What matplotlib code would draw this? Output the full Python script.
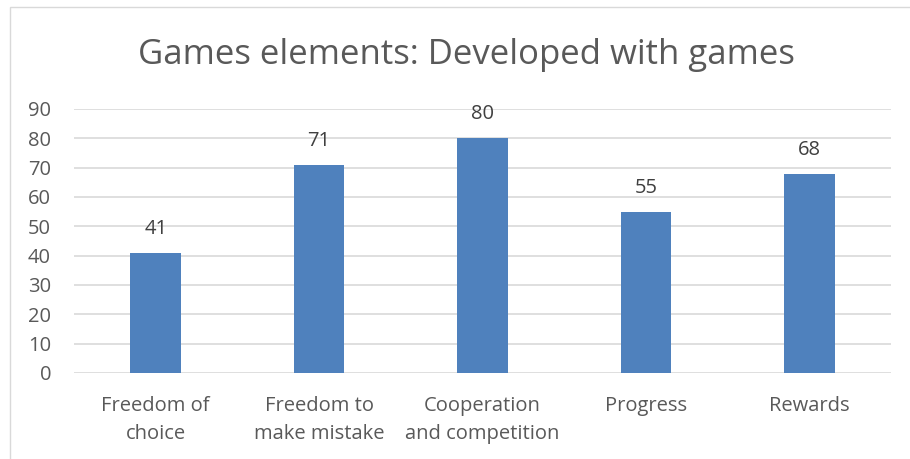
import matplotlib
matplotlib.use("Agg")
import matplotlib.pyplot as plt
from matplotlib.patches import Rectangle

categories = ["Freedom of\nchoice", "Freedom to\nmake mistake", "Cooperation\nand competition", "Progress", "Rewards"]
values = [41, 71, 80, 55, 68]
yticks = [0, 10, 20, 30, 40, 50, 60, 70, 80, 90]
title = "Games elements: Developed with games"

plt.rcParams['font.family'] = ['Open Sans', 'DejaVu Sans']
W, H = 910, 459
fig = plt.figure(figsize=(W/100, H/100), dpi=100)
fig.patch.set_facecolor('white')

# chart border (cropped at right/bottom)
fig.add_artist(Rectangle((10/W, -0.1), 1.2, (H-7)/H + 0.1, transform=fig.transFigure,
                         fill=False, edgecolor='#D9D9D9', linewidth=1.0))

left, right = 74/W, 891/W
bottom, top = 1 - 373/H, 1 - 109/H
ax = fig.add_axes([left, bottom, right-left, top-bottom])
x = list(range(len(categories)))
ax.bar(x, values, width=0.31, color='#4F81BD', zorder=3)
ax.set_xlim(-0.5, len(categories)-0.5)
ax.set_ylim(0, 90)
ax.set_yticks(yticks)
ax.grid(axis='y', color='#D9D9D9', linewidth=1.2, zorder=0)
for s in ax.spines.values():
    s.set_visible(False)
ax.tick_params(axis='both', length=0, labelsize=14.5, colors='#595959')
ax.tick_params(axis='y', pad=16.5)
ax.tick_params(axis='x', pad=16.5)
ax.set_xticks(x)
ax.set_xticklabels(categories, linespacing=1.55)
for xi, v in zip(x, values):
    ax.annotate(str(v), (xi, v), xytext=(0, 10), textcoords='offset points',
                ha='center', va='bottom', fontsize=14.5, color='#404040')
fig.text(466/W, 1 - 55/H, title, ha='center', va='center', fontsize=25, color='#595959')
fig.savefig('out.png', dpi=100, facecolor='white')
